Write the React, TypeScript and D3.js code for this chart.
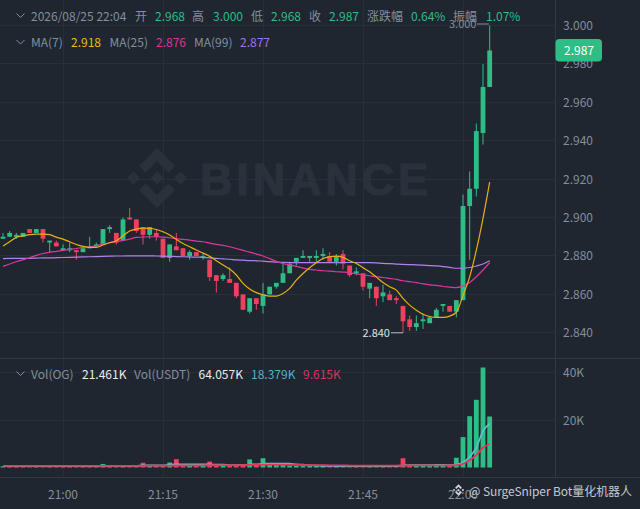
import * as d3 from "d3";

// one candle per minute, first one is 20:51
const opens = [
  2.889, 2.890, 2.890, 2.890, 2.894, 2.892, 2.894, 2.887, 2.887, 2.883,
  2.883, 2.883, 2.882, 2.884, 2.885, 2.886, 2.894, 2.892, 2.888, 2.900,
  2.899, 2.895, 2.891, 2.892, 2.889, 2.879, 2.885, 2.884, 2.880, 2.882,
  2.879, 2.878, 2.870, 2.868, 2.868, 2.866, 2.860, 2.851, 2.858, 2.854,
  2.860, 2.864, 2.866, 2.871, 2.877, 2.879, 2.879, 2.879, 2.880, 2.880,
  2.877, 2.881, 2.875, 2.871, 2.871, 2.863, 2.864, 2.859, 2.860, 2.858,
  2.854, 2.847, 2.843, 2.846, 2.845, 2.848, 2.854, 2.854, 2.851, 2.857,
  2.906, 2.915, 2.944, 2.968,
];
const closes = [
  2.890, 2.892, 2.891, 2.892, 2.892, 2.894, 2.889, 2.888, 2.885, 2.884,
  2.884, 2.882, 2.884, 2.885, 2.886, 2.894, 2.895, 2.887, 2.899, 2.899,
  2.893, 2.891, 2.895, 2.890, 2.879, 2.886, 2.883, 2.880, 2.882, 2.880,
  2.880, 2.869, 2.867, 2.870, 2.866, 2.859, 2.852, 2.858, 2.855, 2.860,
  2.864, 2.866, 2.871, 2.876, 2.879, 2.880, 2.880, 2.880, 2.881, 2.877,
  2.880, 2.876, 2.870, 2.872, 2.864, 2.866, 2.858, 2.861, 2.857, 2.857,
  2.846, 2.843, 2.845, 2.847, 2.848, 2.852, 2.855, 2.851, 2.857, 2.906,
  2.915, 2.945, 2.968, 2.987,
];
const highs = [
  2.892, 2.893, 2.892, 2.892, 2.894, 2.894, 2.894, 2.888, 2.888, 2.886,
  2.887, 2.883, 2.884, 2.890, 2.887, 2.894, 2.896, 2.892, 2.900, 2.905,
  2.899, 2.895, 2.895, 2.894, 2.889, 2.886, 2.892, 2.884, 2.883, 2.882,
  2.881, 2.878, 2.870, 2.871, 2.874, 2.866, 2.860, 2.858, 2.858, 2.866,
  2.864, 2.866, 2.876, 2.877, 2.879, 2.883, 2.880, 2.883, 2.884, 2.882,
  2.881, 2.883, 2.875, 2.874, 2.871, 2.866, 2.864, 2.865, 2.862, 2.859,
  2.854, 2.849, 2.849, 2.850, 2.848, 2.853, 2.855, 2.854, 2.857, 2.912,
  2.924, 2.949, 2.980, 3.000,
];
const lows = [
  2.889, 2.890, 2.889, 2.890, 2.892, 2.892, 2.887, 2.882, 2.885, 2.883,
  2.882, 2.878, 2.882, 2.884, 2.885, 2.886, 2.892, 2.886, 2.888, 2.899,
  2.892, 2.886, 2.889, 2.888, 2.879, 2.877, 2.883, 2.880, 2.878, 2.880,
  2.878, 2.867, 2.861, 2.867, 2.866, 2.858, 2.852, 2.850, 2.852, 2.850,
  2.860, 2.863, 2.866, 2.871, 2.875, 2.879, 2.877, 2.877, 2.878, 2.877,
  2.875, 2.873, 2.869, 2.870, 2.862, 2.858, 2.854, 2.856, 2.857, 2.855,
  2.840, 2.841, 2.841, 2.842, 2.845, 2.848, 2.851, 2.851, 2.848, 2.857,
  2.878, 2.911, 2.938, 2.968,
];
const ma7 = [
  2.8852, 2.8874, 2.8897, 2.8905, 2.8911, 2.8914, 2.8914, 2.8911, 2.8898, 2.8888,
  2.8874, 2.8860, 2.8850, 2.8845, 2.8845, 2.8857, 2.8869, 2.8879, 2.8905, 2.8930,
  2.8940, 2.8945, 2.8944, 2.8938, 2.8926, 2.8909, 2.8886, 2.8865, 2.8848, 2.8831,
  2.8815, 2.8798, 2.8775, 2.8753, 2.8732, 2.8701, 2.8657, 2.8628, 2.8609, 2.8598,
  2.8591, 2.8591, 2.8605, 2.8631, 2.8674, 2.8709, 2.8739, 2.8765, 2.8787, 2.8796,
  2.8799, 2.8793, 2.8775, 2.8761, 2.8739, 2.8718, 2.8690, 2.8662, 2.8640, 2.8622,
  2.8579, 2.8544, 2.8518, 2.8497, 2.8485, 2.8480, 2.8480, 2.8487, 2.8507, 2.8594,
  2.8691, 2.8830, 2.8996, 2.9184,
];
const ma25 = [
  2.8746, 2.8758, 2.8770, 2.8780, 2.8791, 2.8803, 2.8813, 2.8819, 2.8824, 2.8829,
  2.8834, 2.8839, 2.8845, 2.8848, 2.8853, 2.8862, 2.8869, 2.8874, 2.8881, 2.8888,
  2.8897, 2.8898, 2.8900, 2.8900, 2.8898, 2.8895, 2.8890, 2.8886, 2.8883, 2.8877,
  2.8874, 2.8867, 2.8860, 2.8855, 2.8848, 2.8839, 2.8829, 2.8820, 2.8810, 2.8800,
  2.8786, 2.8772, 2.8761, 2.8754, 2.8746, 2.8737, 2.8730, 2.8727, 2.8723, 2.8721,
  2.8718, 2.8716, 2.8713, 2.8707, 2.8702, 2.8697, 2.8692, 2.8688, 2.8683, 2.8678,
  2.8671, 2.8666, 2.8661, 2.8655, 2.8650, 2.8647, 2.8641, 2.8638, 2.8635, 2.8645,
  2.8662, 2.8692, 2.8727, 2.8765,
];
const ma99 = [
  2.8786, 2.8787, 2.8787, 2.8788, 2.8788, 2.8789, 2.8790, 2.8790, 2.8791, 2.8792,
  2.8793, 2.8794, 2.8795, 2.8796, 2.8797, 2.8798, 2.8799, 2.8800, 2.8800, 2.8801,
  2.8801, 2.8801, 2.8801, 2.8800, 2.8799, 2.8798, 2.8797, 2.8796, 2.8795, 2.8794,
  2.8793, 2.8790, 2.8787, 2.8785, 2.8783, 2.8780, 2.8778, 2.8776, 2.8775, 2.8773,
  2.8771, 2.8768, 2.8767, 2.8766, 2.8765, 2.8765, 2.8765, 2.8765, 2.8765, 2.8765,
  2.8765, 2.8766, 2.8766, 2.8766, 2.8765, 2.8765, 2.8764, 2.8761, 2.8760, 2.8758,
  2.8756, 2.8755, 2.8754, 2.8752, 2.8750, 2.8748, 2.8745, 2.8741, 2.8736, 2.8736,
  2.8740, 2.8748, 2.8758, 2.8775,
];
// volumes in thousands
const volumes = [
  0.5, 0.6, 0.5, 0.5, 0.5, 0.4, 0.6, 0.7, 0.6, 0.5,
  0.6, 0.5, 0.4, 0.5, 0.6, 1.5, 0.6, 0.5, 0.7, 0.6,
  0.6, 2.0, 0.6, 0.6, 0.9, 2.1, 3.5, 1.0, 0.7, 0.8,
  0.7, 2.5, 1.0, 0.8, 0.7, 0.8, 0.9, 3.4, 1.0, 3.9,
  1.2, 1.0, 1.0, 0.8, 0.7, 0.6, 0.6, 0.6, 0.6, 0.7,
  0.6, 0.6, 0.5, 0.5, 0.6, 0.6, 0.5, 0.5, 0.5, 0.6,
  3.9, 1.0, 0.8, 0.7, 0.7, 0.8, 0.7, 0.8, 4.1, 12.8,
  21.6, 28.5, 42.1, 21.46,
];
const volMa7 = [
  0.6, 0.6, 0.5, 0.5, 0.5, 0.5, 0.5, 0.5, 0.5, 0.6,
  0.6, 0.6, 0.5, 0.5, 0.5, 0.7, 0.7, 0.7, 0.7, 0.7,
  0.7, 0.9, 0.9, 0.9, 0.9, 1.2, 1.4, 1.4, 1.4, 1.3,
  1.3, 1.3, 1.2, 1.2, 1.0, 1.0, 1.0, 1.3, 1.3, 1.7,
  1.7, 1.7, 1.7, 1.7, 1.3, 1.2, 0.9, 0.8, 0.7, 0.7,
  0.6, 0.6, 0.6, 0.6, 0.6, 0.6, 0.6, 0.6, 0.6, 0.6,
  0.9, 1.0, 1.0, 1.0, 1.0, 1.1, 1.1, 1.0, 1.3, 2.1,
  4.5, 8.4, 15.3, 18.5,
];
const volMa25 = [
  0.7, 0.7, 0.7, 0.7, 0.7, 0.7, 0.7, 0.7, 0.7, 0.7,
  0.7, 0.7, 0.7, 0.7, 0.7, 0.7, 0.7, 0.7, 0.7, 0.7,
  0.7, 0.7, 0.8, 0.8, 0.8, 0.8, 0.9, 0.9, 0.9, 0.9,
  0.9, 1.0, 1.0, 1.0, 1.0, 1.0, 1.0, 1.1, 1.1, 1.2,
  1.2, 1.2, 1.2, 1.2, 1.1, 1.1, 1.0, 1.0, 1.0, 0.9,
  0.9, 0.9, 0.8, 0.8, 0.8, 0.8, 0.8, 0.8, 0.8, 0.8,
  0.9, 0.9, 0.9, 0.9, 0.9, 0.9, 0.9, 0.9, 1.0, 1.5,
  3.1, 5.2, 8.3, 9.9,
];
const priceTicks = [2.84, 2.86, 2.88, 2.9, 2.92, 2.94, 2.96, 2.98, 3.0];
const volTicks = [20, 40];
const timeTicks = ["21:00", "21:15", "21:30", "21:45", "22:00"];

const GREEN = "#2ebd85";
const RED = "#f0405f";
const BG = "#1f2630";
const GRID = "#282f39";
const EDGE = "#313843";
const MUTED = "#848e9c";
const MARK = "#2a313b";
const FONT = "'Noto Sans CJK SC','Noto Sans',sans-serif";

const toTime = (hhmm: string) => {
  const [h, m] = hhmm.split(":").map(Number);
  return new Date(2026, 7, 25, h, m);
};
const dates = closes.map((_, i) => new Date(2026, 7, 25, 20, 51 + i));

const x = d3.scaleTime().domain([toTime("21:00"), toTime("21:15")]).range([63, 163]);
const y = d3.scaleLinear().domain([2.84, 3.0]).range([332.8, 25.5]);
const yVol = d3.scaleLinear().domain([0, 40]).range([467.5, 372.5]);

const priceLine = (values: number[]) =>
  d3.line<number>().x((_, i) => x(dates[i])).y((v) => y(v)).curve(d3.curveMonotoneX)(values) || "";
const volLine = (values: number[]) =>
  d3.line<number>().x((_, i) => x(dates[i])).y((v) => yVol(v)).curve(d3.curveMonotoneX)(values) || "";

function Chevron({ cy }: { cy: number }) {
  return <path d={`M16.5,${cy - 2.5} L20.5,${cy + 1.5} L24.5,${cy - 2.5}`} fill="none" stroke={MUTED} strokeWidth={1} />;
}

function Logo({ cx, cy, k, fill }: { cx: number; cy: number; k: number; fill: string }) {
  return (
    <g transform={`translate(${cx},${cy}) scale(${k})`} fill={fill}>
      <path d="M0,-30 L18,-12 L11.5,-5.5 L0,-17 L-11.5,-5.5 L-18,-12 Z" />
      <path d="M0,30 L18,12 L11.5,5.5 L0,17 L-11.5,5.5 L-18,12 Z" />
      <path d="M-30,0 L-23.5,-6.5 L-17,0 L-23.5,6.5 Z" />
      <path d="M30,0 L23.5,-6.5 L17,0 L23.5,6.5 Z" />
      <path d="M0,-6.5 L6.5,0 L0,6.5 L-6.5,0 Z" />
    </g>
  );
}

type Label = [number, string, string];
const headerRow: Label[] = [
  [31, "2026/08/25 22:04", MUTED],
  [135, "开", MUTED],
  [155, "2.968", GREEN],
  [192, "高", MUTED],
  [213, "3.000", GREEN],
  [251, "低", MUTED],
  [271, "2.968", GREEN],
  [309, "收", MUTED],
  [329, "2.987", GREEN],
  [367, "涨跌幅", MUTED],
  [411, "0.64%", GREEN],
  [453, "振幅", MUTED],
  [486, "1.07%", GREEN],
];
const maRow: Label[] = [
  [31, "MA(7)", MUTED],
  [71, "2.918", "#f0b90b"],
  [109.5, "MA(25)", MUTED],
  [156, "2.876", "#e0309e"],
  [194, "MA(99)", MUTED],
  [240, "2.877", "#a66ff0"],
];
const volRow: Label[] = [
  [31, "Vol(OG)", MUTED],
  [82, "21.461K", "#eaecef"],
  [134, "Vol(USDT)", MUTED],
  [198.5, "64.057K", "#eaecef"],
  [251, "18.379K", "#4fb3c8"],
  [303, "9.615K", "#d8345f"],
];

function Row({ items, baseline }: { items: Label[]; baseline: number }) {
  return (
    <g fontSize={12}>
      {items.map(([lx, text, color]) => (
        <text key={lx} x={lx} y={baseline} fill={color}>
          {text}
        </text>
      ))}
    </g>
  );
}

export default function App() {
  return (
    <svg width={640} height={509} style={{ position: "fixed", left: 0, top: 0 }} fontFamily={FONT}>
      <rect width={640} height={509} fill={BG} />

      {/* grid */}
      <g stroke={GRID} strokeWidth={1} shapeRendering="crispEdges">
        {priceTicks.map((t) => (
          <line key={t} x1={0} x2={555} y1={y(t)} y2={y(t)} />
        ))}
        {volTicks.map((t) => (
          <line key={t} x1={0} x2={555} y1={yVol(t)} y2={yVol(t)} />
        ))}
        {timeTicks.map((t) => (
          <line key={t} x1={x(toTime(t))} x2={x(toTime(t))} y1={0} y2={477} />
        ))}
      </g>
      <g stroke={EDGE} strokeWidth={1} shapeRendering="crispEdges">
        <line x1={0} x2={640} y1={358} y2={358} />
        <line x1={0} x2={640} y1={477} y2={477} />
        <line x1={555} x2={555} y1={0} y2={477} />
      </g>

      {/* watermark */}
      <Logo cx={157} cy={178} k={1} fill={MARK} />
      <text x={200} y={195} fontFamily="'Liberation Sans',sans-serif" fontWeight={700} fontSize={45} fill={MARK} stroke={MARK} strokeWidth={1.2} textLength={228} lengthAdjust="spacing">
        BINANCE
      </text>

      {/* candles */}
      {closes.map((c, i) => {
        const color = c >= opens[i] ? GREEN : RED;
        const cx = x(dates[i]);
        const top = y(Math.max(opens[i], c));
        const bottom = y(Math.min(opens[i], c));
        return (
          <g key={i} fill={color}>
            <rect x={cx - 0.5} width={1} y={y(highs[i])} height={y(lows[i]) - y(highs[i])} />
            <rect x={cx - 2.4} width={4.8} y={top} height={Math.max(bottom - top, 1)} />
          </g>
        );
      })}

      {/* moving averages */}
      <g fill="none" strokeWidth={1.2}>
        <path d={priceLine(ma99)} stroke="#b083ea" />
        <path d={priceLine(ma25)} stroke="#e0359e" />
        <path d={priceLine(ma7)} stroke="#e8b20c" />
      </g>

      {/* highest / lowest markers */}
      <line x1={477} x2={489} y1={y(d3.max(highs)!) - 1.5} y2={y(d3.max(highs)!) - 1.5} stroke={MUTED} />
      <text x={449} y={28} fontSize={11} fill={MUTED}>3.000</text>
      <line x1={391} x2={403} y1={y(d3.min(lows)!)} y2={y(d3.min(lows)!)} stroke="#b7bdc6" />
      <text x={362.5} y={337} fontSize={11} fill="#dfe3e8">2.840</text>

      {/* price axis */}
      <g fontSize={12} fill={MUTED}>
        {priceTicks.map((t) => (
          <text key={t} x={563} y={y(t) + 4.5}>
            {d3.format(".3f")(t)}
          </text>
        ))}
      </g>
      <rect x={555.5} y={39} width={46.5} height={22.5} rx={4} fill={GREEN} />
      <text x={564} y={55} fontSize={12} fill="#fff">2.987</text>

      {/* legends */}
      <Chevron cy={16} />
      <Row items={headerRow} baseline={21} />
      <Chevron cy={42.5} />
      <Row items={maRow} baseline={47} />
      <Chevron cy={374} />
      <Row items={volRow} baseline={378.5} />

      {/* volume */}
      {volumes.map((v, i) => (
        <rect
          key={i}
          x={x(dates[i]) - 2.4}
          width={4.8}
          y={yVol(v)}
          height={yVol(0) - yVol(v)}
          fill={closes[i] >= opens[i] ? GREEN : RED}
        />
      ))}
      <g fill="none">
        <path d={volLine(volMa7)} stroke="#62c3d6" strokeWidth={1.6} />
        <path d={volLine(volMa25)} stroke="#e2385f" strokeWidth={1.8} />
      </g>
      <g fontSize={12} fill={MUTED}>
        {volTicks.map((t) => (
          <text key={t} x={563} y={yVol(t) + 4.5}>
            {t}K
          </text>
        ))}
      </g>

      {/* time axis */}
      <g fontSize={12} fill={MUTED} textAnchor="middle">
        {timeTicks.map((t) => (
          <text key={t} x={x(toTime(t))} y={498.5}>
            {t}
          </text>
        ))}
      </g>

      {/* signature */}
      <Logo cx={458.5} cy={490} k={0.19} fill="#d5d9df" />
      <text x={469} y={496} fontSize={12} fill="#c4c9d0" textLength={163} lengthAdjust="spacing">
        @ SurgeSniper Bot量化机器人
      </text>
    </svg>
  );
}
